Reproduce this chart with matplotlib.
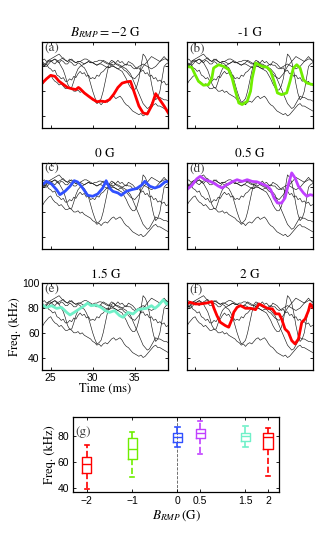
import matplotlib
matplotlib.use('Agg')
import matplotlib.pyplot as plt
import numpy as np

matplotlib.rcParams['mathtext.fontset'] = 'stix'
matplotlib.rcParams['font.family'] = 'STIXGeneral'

# B_RMP cases
fields = [-2, -1, 0, 0.5, 1.5, 2]
field_labels = ['\u22122', '\u22121', '0', '0.5', '1.5', '2']
titles = ['$B_{RMP} = -2$ G', '-1 G', '0 G', '0.5 G', '1.5 G', '2 G']
letters = ['(a)', '(b)', '(c)', '(d)', '(e)', '(f)']
colors = ['#ff0000', '#70ee00', '#3050ff', '#c040ff', '#70f0c8', '#ff0000']

# background shots (black, same in every panel), sampled every 0.25 ms
t_bg = np.arange(24, 39.001, 0.25)
bg_1 = [65, 68, 70, 72, 73, 70, 68, 67, 65, 66, 64, 62, 62, 63, 62, 60,
        60, 61, 59, 60, 58, 57, 56, 55, 53, 52, 50, 51, 49, 51, 52, 51,
        53, 55, 56, 54, 55, 56, 54, 51, 49, 48, 46, 44, 43, 42, 41, 42,
        40, 41, 43, 45, 47, 49, 50, 48, 48, 47, 46, 45, 44]
bg_2 = [84, 82, 83, 85, 85, 83, 82, 84, 83, 85, 84, 82, 82, 84, 83, 81,
        81, 83, 82, 80, 79, 76, 72, 66, 60, 55, 51, 52, 54, 60, 68, 76,
        83, 85, 84, 82, 82, 81, 80, 79, 78, 76, 74, 70, 66, 62, 58, 54,
        50, 48, 46, 47, 50, 53, 56, 55, 55, 54, 53, 53, 52]
bg_3 = [80, 81, 82, 84, 84, 85, 86, 85, 83, 80, 77, 72, 66, 63, 63, 68,
        74, 78, 80, 81, 82, 83, 84, 83, 83, 82, 81, 82, 82, 81, 80, 79,
        79, 80, 80, 79, 78, 77, 76, 73, 70, 66, 63, 61, 61, 64, 70, 80,
        90, 88, 84, 76, 66, 58, 53, 55, 60, 70, 80, 82, 83]
bg_4 = [85, 86, 84, 85, 86, 87, 88, 89, 90, 88, 86, 85, 84, 85, 86, 84,
        83, 84, 84, 85, 86, 86, 85, 84, 83, 84, 84, 85, 85, 84, 83, 82,
        82, 83, 84, 82, 81, 80, 80, 81, 82, 81, 81, 79, 78, 79, 80, 81,
        82, 81, 80, 79, 78, 79, 80, 82, 84, 86, 88, 86, 84]
bg_5 = [83, 81, 82, 79, 78, 76, 77, 73, 72, 70, 71, 68, 68, 70, 69, 72,
        71, 74, 76, 74, 75, 72, 73, 70, 71, 70, 73, 72, 75, 76, 78, 80,
        79, 82, 81, 83, 85, 83, 84, 82, 81, 84, 83, 82, 80, 78, 79, 76,
        77, 74, 75, 72, 73, 70, 71, 68, 69, 67, 68, 65, 66]
bg_6 = [82, 81, 80, 82, 84, 85, 86, 84, 85, 86, 87, 85, 84, 86, 85, 84,
        83, 84, 84, 83, 82, 83, 84, 83, 83, 82, 81, 82, 83, 85, 84, 83,
        82, 81, 80, 79, 78, 79, 79, 77, 76, 74, 72, 71, 70, 72, 74, 77,
        80, 82, 84, 86, 88, 87, 86, 85, 84, 85, 86, 86, 85]
background = [bg_1, bg_2, bg_3, bg_4, bg_5, bg_6]

# highlighted traces, one per B_RMP
t_m2 = [24.0, 24.5, 25.0, 25.5, 26.0, 26.5, 27.0, 27.5, 28.0, 28.3, 28.5, 29.0,
        29.5, 30.0, 30.5, 31.0, 31.5, 32.0, 32.5, 33.0, 33.5, 34.0, 34.5, 35.0,
        35.5, 36.0, 36.5, 37.0, 37.5, 38.0, 38.5, 39.0]
f_m2 = [66.6, 70.0, 72.8, 72.0, 68.0, 65.5, 63.0, 62.0, 61.3, 63.0, 62.0, 58.6,
        56.0, 53.5, 51.5, 52.0, 51.5, 53.2, 57.5, 63.0, 66.5, 67.5, 68.0, 58.0,
        48.0, 42.4, 41.5, 48.0, 58.0, 53.0, 48.0, 42.4]

t_m1 = [24.0, 24.6, 25.0, 25.4, 26.0, 26.6, 27.0, 27.2, 27.8, 28.4, 29.0, 29.4,
        29.8, 30.2, 30.6, 31.2, 31.6, 31.8, 32.2, 33.0, 33.6, 34.0, 34.4, 34.8,
        35.3, 35.9, 36.3, 36.7, 37.1, 37.5, 37.9, 38.3, 39.0]
f_m1 = [80.0, 79.3, 73.4, 68.0, 64.8, 65.3, 70.7, 78.7, 81.4, 80.0, 77.4, 70.7,
        60.0, 50.5, 49.2, 51.8, 60.0, 70.7, 82.8, 80.0, 79.3, 76.0, 68.0, 58.6,
        57.2, 58.6, 68.0, 78.7, 81.4, 78.7, 69.3, 66.6, 65.3]

t_0 = [24.0, 24.5, 25.1, 25.7, 26.1, 26.7, 27.3, 27.8, 28.2, 28.8, 29.4, 30.0,
       30.6, 31.2, 31.6, 32.0, 32.4, 33.0, 33.4, 34.0, 34.6, 35.2, 35.8, 36.2,
       36.8, 37.4, 38.0, 38.6, 39.0]
f_0 = [82.1, 84.8, 82.6, 78.0, 74.0, 76.7, 80.8, 85.3, 84.3, 79.4, 73.5, 72.7,
       74.6, 79.4, 85.3, 79.4, 76.7, 75.4, 73.5, 76.7, 78.0, 78.9, 81.6, 84.8,
       80.8, 79.4, 80.8, 84.3, 84.8]

t_05 = [24.0, 24.6, 25.2, 25.6, 26.2, 26.8, 27.3, 27.8, 28.2, 28.8, 29.4, 30.0,
        30.6, 31.2, 31.8, 32.4, 33.0, 33.6, 34.0, 34.4, 34.8, 35.3, 35.7, 36.1,
        36.5, 36.9, 37.3, 37.9, 38.3, 38.7, 39.0]
f_05 = [78.0, 81.4, 86.8, 88.8, 86.0, 84.7, 83.0, 80.8, 79.4, 82.1, 84.3, 86.1,
        84.7, 86.1, 84.7, 84.3, 82.6, 80.8, 78.0, 71.3, 67.3, 67.3, 71.3, 82.1,
        91.6, 87.5, 80.8, 75.4, 72.7, 74.0, 73.5]

t_15 = [24.0, 24.5, 25.1, 25.7, 26.3, 26.9, 27.3, 27.8, 28.4, 29.0, 29.4, 29.8,
        30.4, 31.0, 31.5, 32.0, 32.6, 33.2, 33.6, 34.2, 34.8, 35.4, 35.8, 36.4,
        37.0, 37.4, 37.8, 38.4, 38.8, 39.0]
f_15 = [82.4, 80.5, 81.9, 79.7, 80.5, 76.5, 74.4, 76.5, 79.2, 81.9, 84.0, 81.9,
        82.4, 80.5, 77.9, 76.5, 77.9, 73.9, 72.5, 76.5, 75.2, 78.7, 79.2, 79.7,
        81.9, 79.7, 81.9, 86.7, 83.2, 84.0]

t_2 = [24.0, 24.4, 25.0, 25.6, 26.4, 27.0, 27.2, 27.6, 28.0, 28.6, 29.0, 29.4,
       29.6, 30.0, 30.4, 31.0, 31.6, 32.2, 32.6, 33.0, 33.6, 34.2, 34.6, 35.0,
       35.3, 35.7, 36.1, 36.5, 36.9, 37.3, 37.7, 38.1, 38.5, 38.7, 39.0]
f_2 = [83.3, 84.7, 83.3, 83.3, 84.1, 85.2, 80.6, 73.9, 68.5, 65.8, 64.5, 71.2,
       76.6, 80.6, 82.0, 79.8, 79.8, 78.7, 83.3, 82.0, 79.8, 79.3, 75.3, 75.3,
       71.2, 63.1, 60.5, 53.7, 51.0, 55.0, 68.5, 71.2, 77.9, 83.3, 80.6]

traces_t = [t_m2, t_m1, t_0, t_05, t_15, t_2]
traces_f = [f_m2, f_m1, f_0, f_05, f_15, f_2]

# box statistics for panel (g)
box_whislo = [39.2, 48.5, 71.5, 66.5, 71.5, 49.8]
box_q1 = [51.5, 62.6, 75.9, 78.5, 76.7, 70.3]
box_med = [58.8, 70.3, 79.2, 82.8, 80.0, 79.2]
box_q3 = [63.8, 78.7, 82.3, 85.2, 82.3, 82.3]
box_whishi = [73.6, 83.1, 86.9, 91.5, 88.0, 86.5]

tick_font = 'Liberation Sans'

fig = plt.figure(figsize=(3.27, 5.54), dpi=100)

W, H = 327.0, 554.0
lefts = [42.3, 186.7]
tops = [41.7, 162.5, 283.3]
pw, ph = 126.0, 86.6

for k in range(6):
  row, col = k // 2, k % 2
  ax = fig.add_axes([lefts[col]/W, 1 - (tops[row] + ph)/H, pw/W, ph/H])
  for bg in background:
    ax.plot(t_bg, bg, color='0.1', lw=0.45)
  ax.plot(traces_t[k], traces_f[k], color=colors[k], lw=2.0)
  ax.set_xlim(24, 39)
  ax.set_ylim(30, 100)
  ax.set_xticks([25, 30, 35])
  ax.set_yticks([40, 60, 80, 100] if k == 4 else [40, 60, 80])
  ax.tick_params(direction='in', top=True, right=True, length=2.5, width=0.6,
                 labelsize=7.5, labelfontfamily=tick_font, pad=2)
  for s in ax.spines.values():
    s.set_linewidth(0.9)
  ax.set_title(titles[k], fontsize=9.5, pad=4)
  ax.text(0.02, 0.99, letters[k], transform=ax.transAxes, ha='left', va='top',
          fontsize=9.5, color='0.25')
  if k == 4:
    ax.set_ylabel('Freq. (kHz)', fontsize=9, labelpad=1)
    ax.set_xlabel('Time (ms)', fontsize=9, labelpad=0)
  else:
    ax.set_xticklabels([])
    ax.set_yticklabels([])

# panel (g): box plots
axg = fig.add_axes([73.3/W, 1 - 491.7/H, 206.0/W, 75.0/H])
stats = [dict(med=box_med[i], q1=box_q1[i], q3=box_q3[i],
              whislo=box_whislo[i], whishi=box_whishi[i], fliers=[])
         for i in range(len(fields))]
art = axg.bxp(stats, positions=fields, widths=0.2, capwidths=0.1,
              showfliers=False, manage_ticks=False)
for i, c in enumerate(colors):
  art['boxes'][i].set(color=c, lw=1.0)
  art['medians'][i].set(color=c, lw=1.0)
  for j in (2*i, 2*i + 1):
    art['whiskers'][j].set(color=c, lw=1.2, ls='--')
    art['caps'][j].set(color=c, lw=1.2)
axg.axvline(0, color='0.35', ls='--', lw=0.6, zorder=0)
axg.set_xlim(-2.3, 2.25)
axg.set_ylim(37.5, 95)
axg.set_xticks(fields)
axg.set_xticklabels(field_labels)
axg.set_yticks([40, 60, 80])
axg.tick_params(direction='in', top=True, right=True, length=2.5, width=0.6,
                labelsize=7.5, labelfontfamily=tick_font, pad=3)
for s in axg.spines.values():
  s.set_linewidth(0.9)
axg.text(0.01, 0.8, '(g)', transform=axg.transAxes, ha='left', va='center',
         fontsize=9.5, color='0.25')
axg.set_ylabel('Freq. (kHz)', fontsize=9, labelpad=1)
axg.set_xlabel('$B_{RMP}\\,$(G)', fontsize=9.5, labelpad=2)

fig.savefig('out.png', dpi=100)
